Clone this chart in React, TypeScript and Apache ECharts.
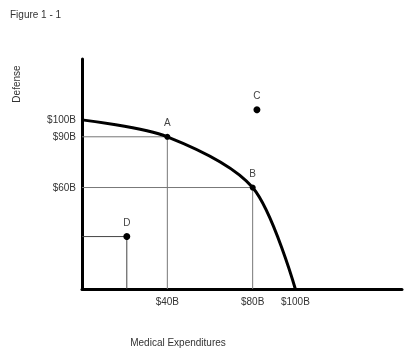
import React, { useEffect, useRef } from "react";
import * as echarts from "echarts";

// PPF curve (Medical Expenditures, Defense) in $B
const curveX = [0, 40, 80, 100];
const curveY = [100, 90, 60, 0];
const pointNames = ["A", "B"];
const pointA = [40, 90];
const pointB = [80, 60];
const pointC = [82, 106];
const pointD = [21, 31];
const xTicks = [40, 80, 100];
const yTicks = [60, 90, 100];
const tickLabel = (v: number) => `$${v}B`;

const FONT = "Liberation Sans, Arial, sans-serif";

export default function App() {
  const ref = useRef<HTMLDivElement>(null);
  useEffect(() => {
    if (!ref.current) return;
    const chart = echarts.init(ref.current, null, { renderer: "svg" });
    const guide = (p: number[], color: string) => ({
      type: "line",
      data: [[0, p[1]], [p[0], p[1]], [p[0], 0]],
      symbol: "none",
      lineStyle: { color, width: 1 },
      z: 1,
      silent: true,
    });
    const dot = (p: number[], name: string, size: number) => ({
      type: "scatter",
      data: [p],
      symbolSize: size,
      itemStyle: { color: "#000", opacity: 1 },
      label: {
        show: true,
        formatter: name,
        position: "top",
        distance: 6,
        color: "#444",
        textBorderWidth: 0,
        fontFamily: FONT,
        fontSize: 10,
      },
      labelLayout: { hideOverlap: false },
      z: 5,
    });
    chart.setOption({
      animation: false,
      grid: { left: 82, right: 6, top: 59, bottom: 63, containLabel: false },
      xAxis: {
        type: "value",
        min: 0,
        max: 150,
        splitLine: { show: false },
        axisTick: { show: false },
        axisLine: { lineStyle: { color: "#000", width: 3 } },
        axisLabel: {
          customValues: xTicks,
          formatter: tickLabel,
          color: "#333",
          fontFamily: FONT,
          fontSize: 10,
          margin: 7,
        },
      },
      yAxis: {
        type: "value",
        min: 0,
        max: 136,
        splitLine: { show: false },
        axisTick: { show: false },
        axisLine: { show: true, lineStyle: { color: "#000", width: 3 } },
        axisLabel: {
          customValues: yTicks,
          formatter: tickLabel,
          color: "#333",
          fontFamily: FONT,
          fontSize: 10,
          margin: 6,
        },
      },
      graphic: [
        {
          type: "text",
          left: 10,
          top: 9,
          style: { text: "Figure 1 - 1", fill: "#333", font: `10px ${FONT}` },
        },
        {
          type: "text",
          x: 16,
          y: 84,
          rotation: Math.PI / 2,
          style: {
            text: "Defense",
            fill: "#333",
            font: `10px ${FONT}`,
            align: "center",
            verticalAlign: "middle",
          },
        },
        {
          type: "text",
          x: 178,
          y: 342,
          style: {
            text: "Medical Expenditures",
            fill: "#333",
            font: `10px ${FONT}`,
            align: "center",
            verticalAlign: "middle",
          },
        },
      ],
      series: [
        guide(pointA, "#777"),
        guide(pointB, "#777"),
        guide(pointD, "#444"),
        {
          type: "line",
          data: curveX.map((x, i) => [x, curveY[i]]),
          smooth: 0.3,
          symbol: "none",
          lineStyle: { color: "#000", width: 3 },
          z: 3,
        },
        dot(pointA, pointNames[0], 6),
        dot(pointB, pointNames[1], 6),
        dot(pointC, "C", 7),
        dot(pointD, "D", 7),
      ],
    });
    return () => chart.dispose();
  }, []);
  return (
    <div
      ref={ref}
      style={{ position: "fixed", left: 0, top: 0, width: 408, height: 352 }}
    />
  );
}
